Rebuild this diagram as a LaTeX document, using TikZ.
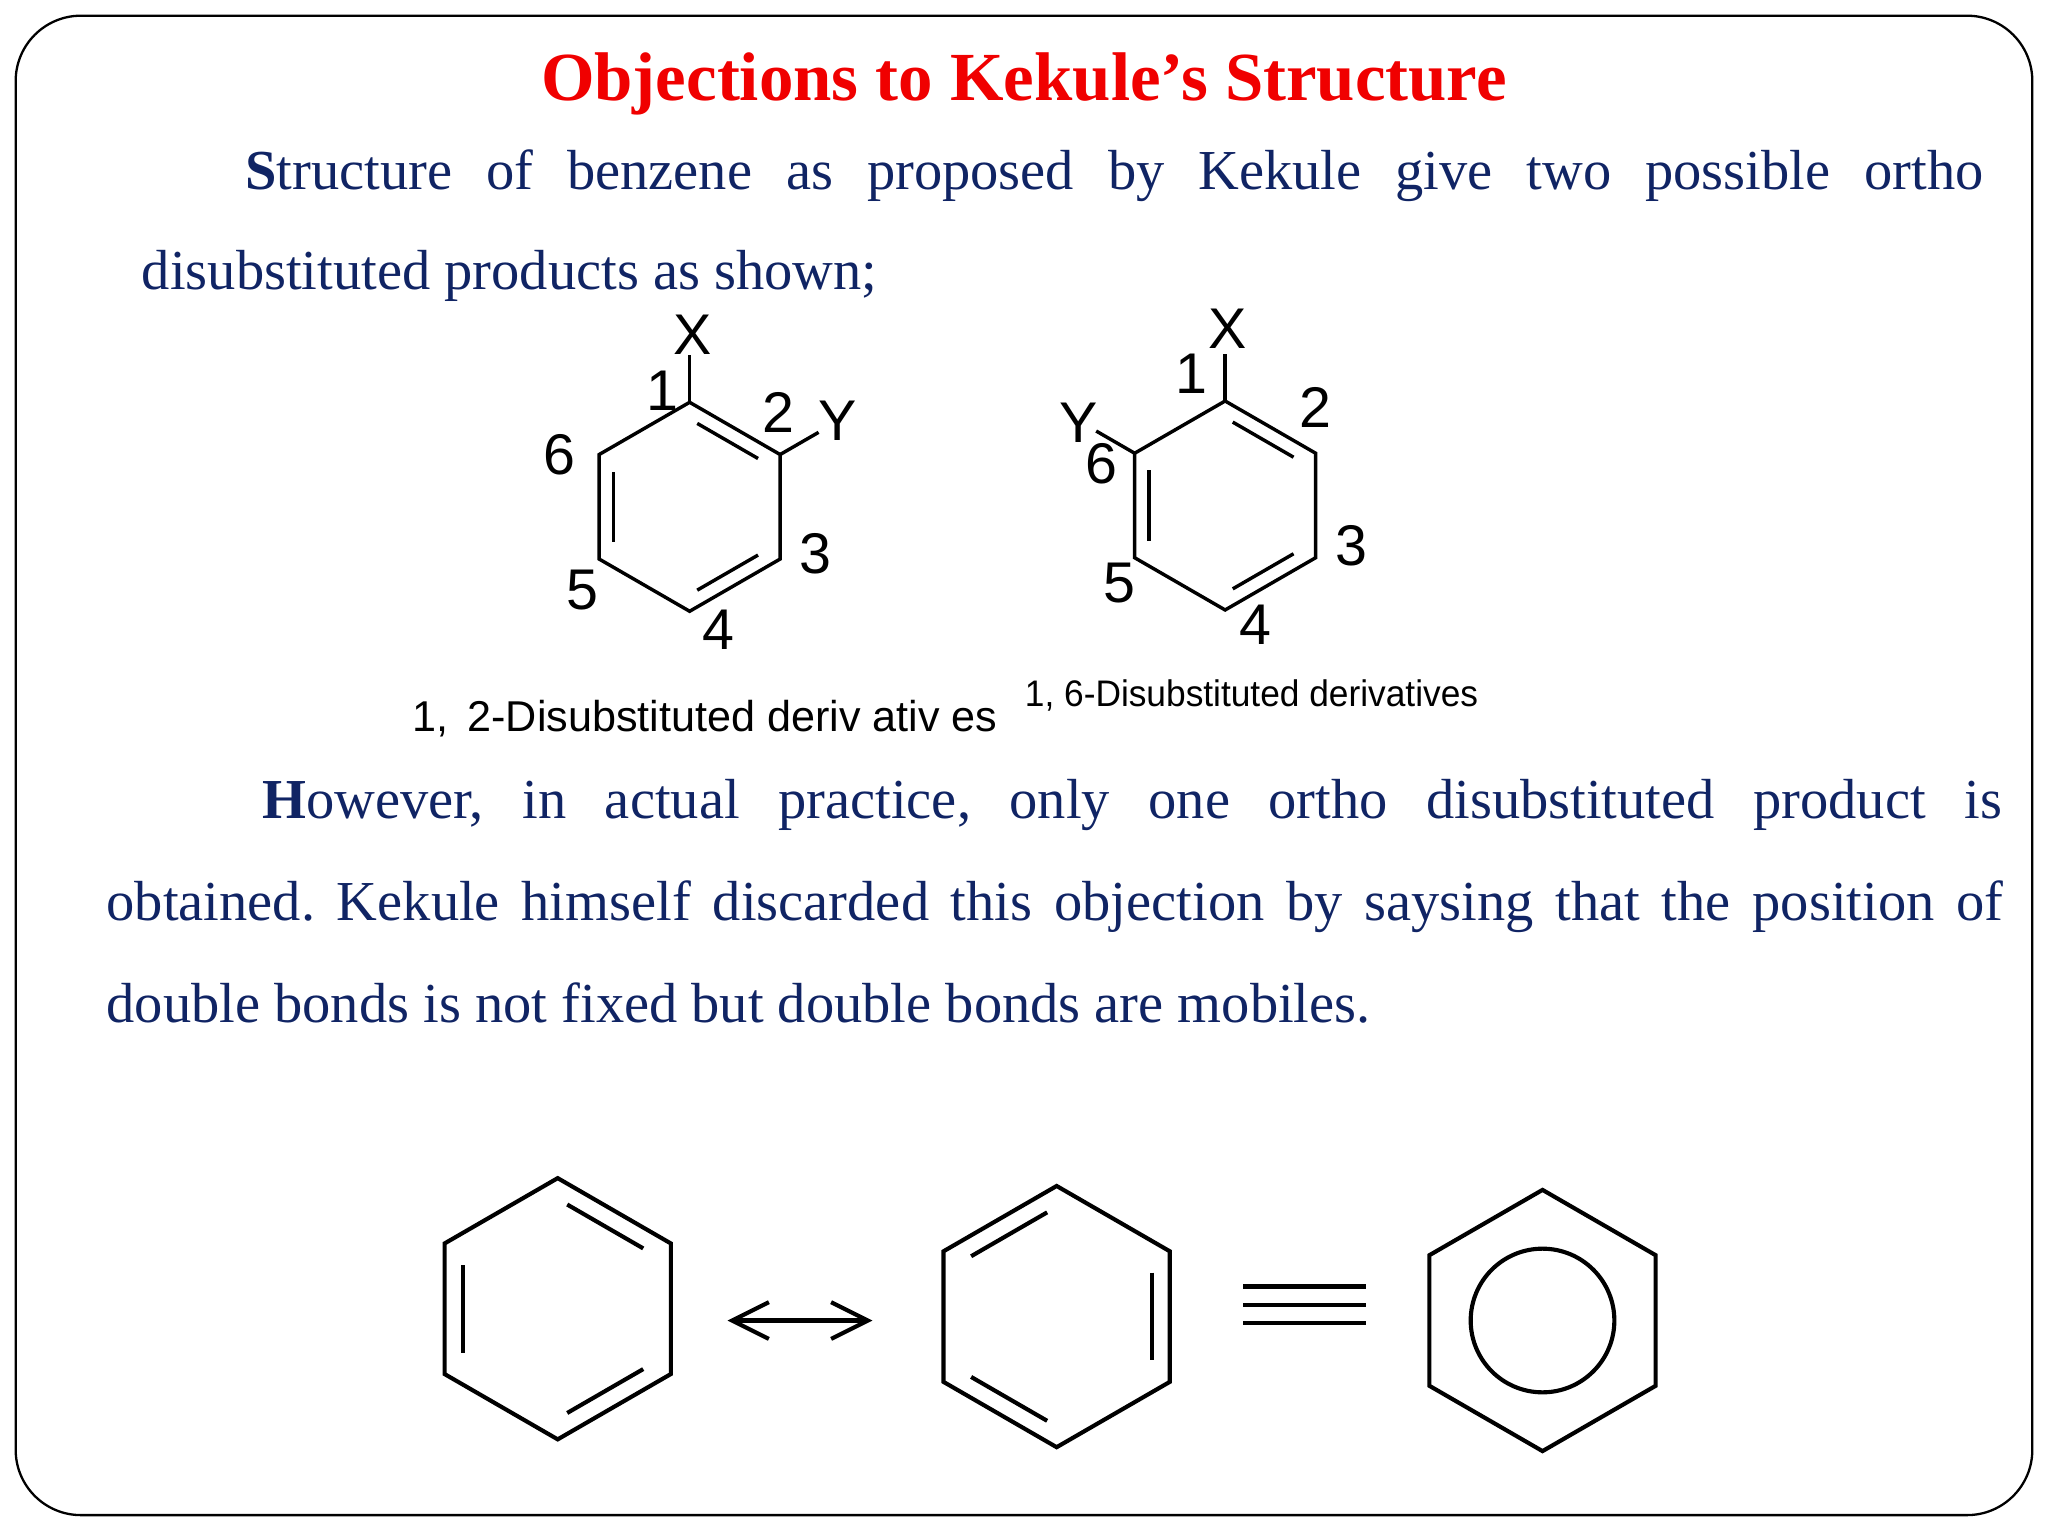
\documentclass[tikz,border=0pt]{standalone}
\usepackage{fontspec}
\setmainfont{Liberation Serif}
\setsansfont{Liberation Sans}
\usetikzlibrary{calc,arrows.meta}
\definecolor{navy}{RGB}{16,36,100}
\definecolor{ttl}{RGB}{240,0,0}
\frenchspacing
\newcommand{\mkhex}[4]{%
  \foreach \k/\a in {1/-90,2/-30,3/30,4/90,5/150,6/210}{
    \coordinate (#1\k) at ($(#2,#3)+(\a:#4)$);
    \coordinate (#1i\k) at ($(#2,#3)+(\a:#4*0.84)$);
  }
  \coordinate (#1c) at (#2,#3);
  \draw[bond] (#11)--(#12)--(#13)--(#14)--(#15)--(#16)--cycle;
}
\newcommand{\dbl}[3]{\draw[bond] ($(#1i#2)!0.1!(#1i#3)$) -- ($(#1i#2)!0.9!(#1i#3)$);}
\newcommand{\jline}[2]{\hbox to #1{\spaceskip=0.3em plus 1fil\relax #2}}
\begin{document}
\begin{tikzpicture}[x=0.1mm,y=-0.1mm,
  bond/.style={line width=0.7pt,line join=miter},
  lab/.style={font=\sffamily\fontsize{12.5}{14}\selectfont,inner sep=0pt},
  body/.style={font=\fontsize{12.3}{14}\selectfont,text=navy,inner sep=0pt,anchor=base west}]
\useasboundingbox (0,0) rectangle (1568,1176);
\draw[line width=0.5pt,rounded corners=5mm] (12,12) rectangle (1556,1160);
\node[font=\bfseries\fontsize{15}{18}\selectfont,text=ttl,anchor=base] (title) at (784,77) {Objections to Kekule’s Structure};
\node[body] (p1a) at (187,145) {\jline{133.1mm}{\textbf{S}tructure of benzene as proposed by Kekule give two possible ortho}};
\node[body] (p1b) at (108,222) {disubstituted products as shown;};
\node[body] (p2a) at (200,627) {\jline{133.2mm}{\textbf{H}owever, in actual practice, only one ortho disubstituted product is}};
\node[body] (p2b) at (81,705) {\jline{145.2mm}{obtained. Kekule himself discarded this objection by saysing that the position of}};
\node[body] (p2c) at (81,783) {double bonds is not fixed but double bonds are mobiles.};
% first molecule
\begin{scope}[bond/.style={line width=0.75pt,line join=miter}]
\mkhex{a}{528}{388}{80}
\dbl{a}{1}{2}\dbl{a}{3}{4}\dbl{a}{5}{6}
\coordinate (ax) at ($(a1)+(0,-36)$);
\coordinate (ay) at ($(a2)+(-30:34)$);
\draw[bond] (a1)--(ax);
\draw[bond] (a2)--(ay);
\node[lab] (lx) at (530,256) {X};
\node[lab] (l1) at (507,299) {1};
\node[lab] (l2) at (596,316) {2};
\node[lab] (lyy) at (641,322) {Y};
\node[lab] (l6) at (428,348) {6};
\node[lab] (l3) at (624,424) {3};
\node[lab] (l5) at (446,452) {5};
\node[lab] (l4) at (550,482) {4};
\node[anchor=base west,inner sep=0pt] (cap1) at (315,560) {\resizebox{44.8mm}{!}{\sffamily 1,\, 2-Disubstituted deriv ativ es}};
% second molecule
\mkhex{b}{938}{387}{80}
\dbl{b}{1}{2}\dbl{b}{3}{4}\dbl{b}{5}{6}
\coordinate (bx) at ($(b1)+(0,-36)$);
\coordinate (by) at ($(b6)+(210:34)$);
\draw[bond] (b1)--(bx);
\draw[bond] (b6)--(by);
\node[lab] (mx) at (940,252) {X};
\node[lab] (m1) at (912,286) {1};
\node[lab] (m2) at (1007,312) {2};
\node[lab] (myy) at (826,324) {Y};
\node[lab] (m6) at (843,355) {6};
\node[lab] (m3) at (1035,418) {3};
\node[lab] (m5) at (857,446) {5};
\node[lab] (m4) at (961,478) {4};
\node[anchor=base west,inner sep=0pt] (cap2) at (784,541) {\resizebox{34.7mm}{2.05mm}{\sffamily 1, 6-Disubstituted derivatives}};
\end{scope}
% bottom row
\begin{scope}[bond/.style={line width=0.9pt,line join=miter}]
\mkhex{c}{427}{1002}{100}
\dbl{c}{1}{2}\dbl{c}{3}{4}\dbl{c}{5}{6}
\mkhex{d}{809}{1008}{100}
\dbl{d}{6}{1}\dbl{d}{2}{3}\dbl{d}{4}{5}
\mkhex{e}{1181}{1011}{100}
\draw[bond] (ec) circle[radius=55];
\coordinate (arl) at (557,1011);
\coordinate (arr) at (668,1011);
\draw[bond,{Straight Barb[length=8pt,width=8pt]}-{Straight Barb[length=8pt,width=8pt]},line cap=round] (arl)--(arr);
\foreach \yy/\nm in {985/q1,999/q2,1013/q3}{
  \coordinate (\nm l) at (952,\yy); \coordinate (\nm r) at (1046,\yy);
  \draw[bond] (\nm l)--(\nm r);}
\end{scope}
\end{tikzpicture}
\end{document}
